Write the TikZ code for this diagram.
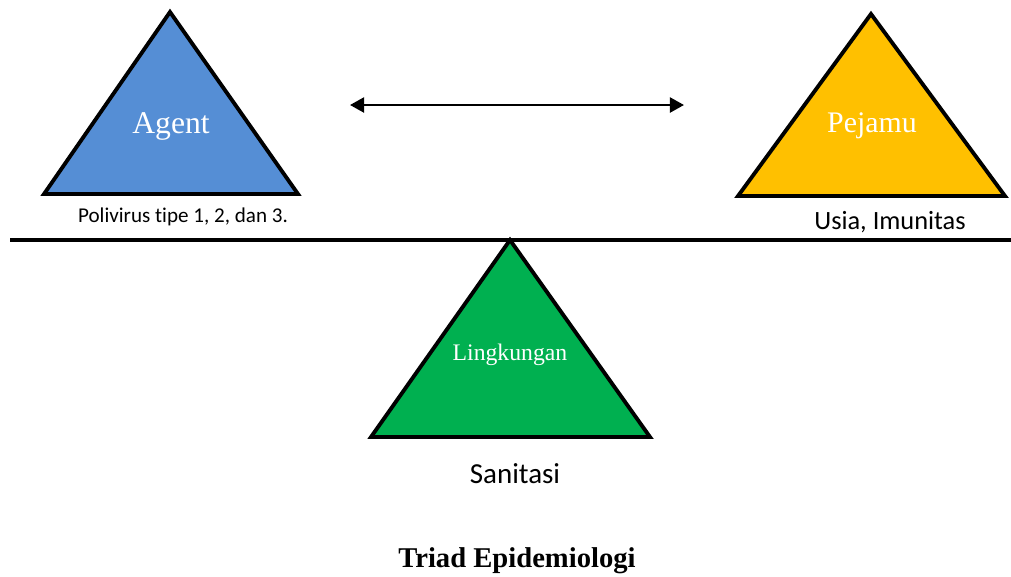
\documentclass[tikz,border=0pt]{standalone}
\usepackage{fontspec}
\setmainfont{Liberation Serif}
\newfontfamily\lblfont[Ligatures=NoCommon]{Carlito}
\usetikzlibrary{arrows.meta, positioning}
\definecolor{agentblue}{HTML}{558ED5}
\definecolor{hostgold}{HTML}{FFC000}
\definecolor{envgreen}{HTML}{00B050}

\begin{document}
\begin{tikzpicture}[
    x=0.02cm, y=-0.02cm,
    tri/.style = {draw=black, line width=2.2pt, line join=miter, fill=#1},
    inner/.style = {text=white, inner sep=0pt, font=#1},
    lbl/.style = {inner sep=0pt, font=\lblfont\fontsize{#1}{#1}\selectfont}
    ]
    \useasboundingbox (0,0) rectangle (1011,576);
    %
    % agent
    \coordinate (AgTop) at (170,12);
    \coordinate (AgL) at (44,194);
    \coordinate (AgR) at (298,194);
    \draw[tri=agentblue] (AgTop) -- (AgR) -- (AgL) -- cycle;
    \node (Agent) [inner=\fontsize{18}{18}\selectfont] at (171,126) {Agent};
    \node (AgLbl) [lbl=12] at (183,217) {Polivirus tipe 1, 2, dan 3.};
    %
    % pejamu
    \coordinate (PjTop) at (871,14);
    \coordinate (PjL) at (738,196);
    \coordinate (PjR) at (1005,196);
    \draw[tri=hostgold] (PjTop) -- (PjR) -- (PjL) -- cycle;
    \node (Pejamu) [inner=\fontsize{17}{17}\selectfont] at (872,126) {Pejamu};
    \node (PjLbl) [lbl=15] at (890,222) {Usia, Imunitas};
    %
    % lingkungan
    \coordinate (LkTop) at (510,240);
    \coordinate (LkL) at (371,437);
    \coordinate (LkR) at (650,437);
    \draw[tri=envgreen] (LkTop) -- (LkR) -- (LkL) -- cycle;
    \node (Lingk) [inner=\fontsize{13.5}{13.5}\selectfont] at (510,355) {Lingkungan};
    \node (LkLbl) [lbl=16.5] at (515,474) {Sanitasi};
    %
    % beam and arrow
    \coordinate (BeamL) at (10,240);
    \coordinate (BeamR) at (1011,240);
    \draw[line width=2.3pt] (BeamL) -- (BeamR);
    \coordinate (ArL) at (350,105);
    \coordinate (ArR) at (684,105);
    \draw[line width=1.4pt, {Triangle[length=8pt,width=8.5pt]}-{Triangle[length=8pt,width=8.5pt]}] (ArL) -- (ArR);
    %
    \node (Title) [inner sep=0pt, font=\bfseries\fontsize{16.3}{16.3}\selectfont] at (517,561) {Triad Epidemiologi};
\end{tikzpicture}
\end{document}
